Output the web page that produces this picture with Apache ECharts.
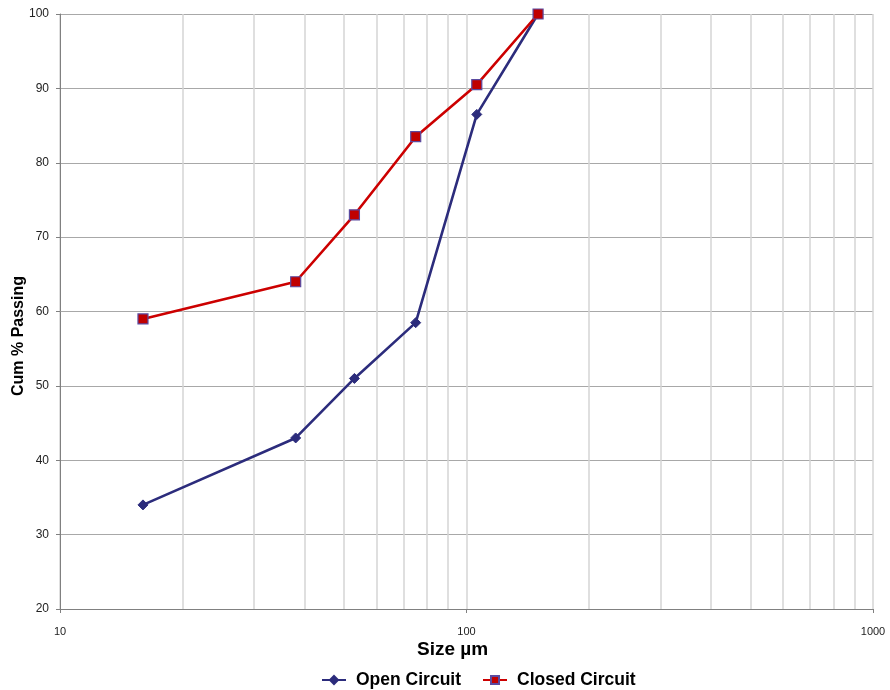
<!DOCTYPE html>
<html>
<head>
<meta charset="utf-8">
<script src="https://cdn.jsdelivr.net/npm/echarts@6/dist/echarts.min.js"></script>
<style>
  html, body { margin: 0; padding: 0; background: #fff; }
  #chart { width: 890px; height: 690px; }
</style>
</head>
<body>
<div id="chart"></div>
<script>
// Sieve sizes (µm) and cumulative % passing
const sizes = [16, 38, 53, 75, 106, 150];
const openCircuit = [34, 43, 51, 58.5, 86.5, 100];
const closedCircuit = [59, 64, 73, 83.5, 90.5, 100];
// Intermediate log-decade gridline positions
const minorGrid = [20, 30, 40, 50, 60, 70, 80, 90, 200, 300, 400, 500, 600, 700, 800, 900];

const FONT = '"Liberation Sans", Arial, sans-serif';

const chart = echarts.init(document.getElementById('chart'), null, { renderer: 'canvas' });

chart.setOption({
  animation: false,
  backgroundColor: '#ffffff',
  grid: { left: 60, right: 17, top: 14, bottom: 81, containLabel: false, outerBoundsMode: 'none' },
  // Axis titles
  graphic: [
    {
      type: 'text',
      left: 417, top: 640,
      style: { text: 'Size µm', font: 'bold 19px ' + FONT, fill: '#000' }
    },
    {
      type: 'text',
      x: 19, y: 336,
      rotation: Math.PI / 2,
      style: {
        text: 'Cum % Passing', font: 'bold 16px ' + FONT, fill: '#000',
        align: 'center', verticalAlign: 'middle'
      }
    }
  ],
  legend: {
    bottom: -4,
    left: 316,
    itemWidth: 24,
    itemHeight: 10,
    itemGap: 21,
    textStyle: {
      fontFamily: FONT, fontWeight: 'bold', fontSize: 17.5, color: '#000',
      padding: [3, 0, 0, 5]
    },
    data: ['Open Circuit', 'Closed Circuit']
  },
  xAxis: {
    type: 'log',
    logBase: 10,
    min: 10,
    max: 1000,
    axisLine: { show: true, lineStyle: { color: '#808080', width: 1 } },
    axisTick: { show: true, length: 4, lineStyle: { color: '#808080' } },
    axisLabel: {
      fontFamily: FONT, fontSize: 11, color: '#222', margin: 17,
      formatter: v => String(Math.round(v))
    },
    splitLine: { show: true, lineStyle: { color: '#d4d4d4', width: 1.5 } }
  },
  yAxis: {
    type: 'value',
    min: 20,
    max: 100,
    interval: 10,
    axisLine: { show: true, lineStyle: { color: '#808080', width: 1 } },
    axisTick: { show: true, length: 4, lineStyle: { color: '#808080' } },
    axisLabel: { fontFamily: FONT, fontSize: 12, color: '#222', margin: 11 },
    splitLine: { show: true, lineStyle: { color: '#a8a8a8', width: 1.2 } }
  },
  series: [
    {
      name: 'grid',
      type: 'line',
      data: [],
      silent: true,
      z: 1,
      markLine: {
        z: 1,
        silent: true,
        symbol: ['none', 'none'],
        label: { show: false },
        lineStyle: { color: '#d4d4d4', width: 1.5, type: 'solid' },
        emphasis: { disabled: true },
        data: minorGrid.map(v => ({ xAxis: v }))
      }
    },
    {
      name: 'Open Circuit',
      type: 'line',
      z: 10,
      data: sizes.map((s, i) => [s, openCircuit[i]]),
      symbol: 'diamond',
      symbolSize: 10,
      lineStyle: { color: '#2c2c7c', width: 2.6 },
      itemStyle: { color: '#2c2c7c', borderColor: '#2c2c7c', borderWidth: 1 }
    },
    {
      name: 'Closed Circuit',
      type: 'line',
      z: 11,
      data: sizes.map((s, i) => [s, closedCircuit[i]]),
      symbol: 'rect',
      symbolSize: 10,
      lineStyle: { color: '#cc0000', width: 2.6 },
      itemStyle: { color: '#c00000', borderColor: '#5a4aa0', borderWidth: 1.2 }
    }
  ]
});
</script>
</body>
</html>
